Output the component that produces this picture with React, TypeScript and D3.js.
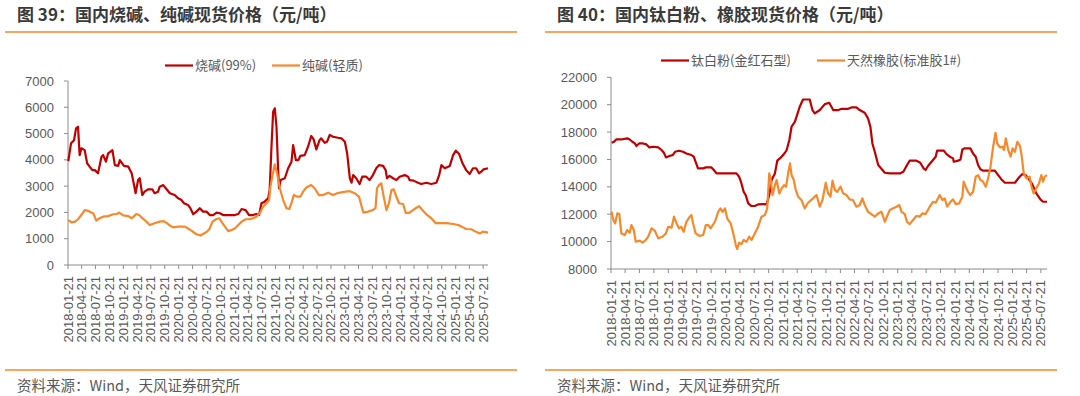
import * as d3 from 'd3';
import React from 'react';

// 烧碱(99%) spot price, 元/吨
const caustic: [string, number][] = [
  ['2018-01-23', 3950], ['2018-02-10', 4630], ['2018-03-02', 4750], ['2018-03-15', 5200], ['2018-03-28', 5260],
  ['2018-04-08', 4180], ['2018-04-19', 4440], ['2018-05-11', 4370], ['2018-05-27', 3870], ['2018-06-13', 3740],
  ['2018-07-01', 3610], ['2018-07-17', 3610], ['2018-08-07', 3490], ['2018-08-30', 4120], ['2018-09-10', 4180],
  ['2018-09-28', 3930], ['2018-10-13', 4250], ['2018-11-10', 4370], ['2018-11-26', 3800], ['2018-12-18', 3770],
  ['2018-12-29', 3990], ['2019-01-25', 3770], ['2019-02-23', 3740], ['2019-03-17', 3490], ['2019-03-26', 3230],
  ['2019-04-12', 2730], ['2019-04-28', 3230], ['2019-05-09', 3300], ['2019-05-26', 2660], ['2019-06-10', 2790],
  ['2019-07-03', 2880], ['2019-07-31', 2880], ['2019-08-15', 2730], ['2019-09-07', 2790], ['2019-09-18', 2980],
  ['2019-10-11', 3040], ['2019-10-28', 2920], ['2019-11-24', 2730], ['2019-12-26', 2660], ['2020-01-17', 2540],
  ['2020-02-09', 2470], ['2020-02-25', 2350], ['2020-03-23', 2280], ['2020-04-07', 2160], ['2020-04-26', 1930],
  ['2020-05-17', 2030], ['2020-06-08', 2160], ['2020-06-30', 2030], ['2020-07-22', 2030], ['2020-08-13', 1900],
  ['2020-09-04', 1900], ['2020-09-27', 1990], ['2020-10-19', 1970], ['2020-11-09', 1900], ['2020-12-24', 1900],
  ['2021-01-26', 1900], ['2021-02-17', 1940], ['2021-03-11', 2130], ['2021-04-07', 2090], ['2021-04-29', 1900],
  ['2021-05-25', 1900], ['2021-06-16', 1940], ['2021-07-04', 1900], ['2021-07-20', 2350], ['2021-08-10', 2410],
  ['2021-09-02', 2540], ['2021-09-12', 2850], ['2021-09-24', 4500], ['2021-10-05', 5830], ['2021-10-16', 5960],
  ['2021-10-27', 5260], ['2021-11-07', 3610], ['2021-11-13', 2920], ['2021-11-23', 3230], ['2021-12-21', 3300],
  ['2022-01-12', 3680], ['2022-02-03', 3930], ['2022-02-14', 4560], ['2022-03-04', 3990], ['2022-03-20', 3990],
  ['2022-04-02', 4150], ['2022-05-01', 4180], ['2022-05-23', 4500], ['2022-06-13', 4910], ['2022-06-29', 4780],
  ['2022-07-17', 4400], ['2022-08-07', 4750], ['2022-08-18', 4820], ['2022-09-10', 4650], ['2022-09-26', 4690],
  ['2022-10-13', 4950], ['2022-11-04', 4880], ['2022-12-07', 4840], ['2022-12-29', 4820], ['2023-01-21', 4690],
  ['2023-02-05', 4250], ['2023-02-23', 3300], ['2023-03-06', 3130], ['2023-03-17', 3420], ['2023-04-06', 3300],
  ['2023-04-28', 3080], ['2023-05-16', 3360], ['2023-06-11', 3360], ['2023-07-03', 3230], ['2023-07-25', 3420],
  ['2023-08-16', 3680], ['2023-09-03', 3800], ['2023-09-30', 3770], ['2023-10-17', 3610], ['2023-10-26', 3300],
  ['2023-11-12', 3390], ['2023-12-05', 3300], ['2023-12-27', 3230], ['2024-01-17', 3360], ['2024-02-20', 3420],
  ['2024-03-13', 3360], ['2024-03-23', 3230], ['2024-04-18', 3210], ['2024-05-17', 3130], ['2024-06-08', 3080],
  ['2024-07-11', 3130], ['2024-08-13', 3080], ['2024-09-16', 3130], ['2024-10-04', 3420], ['2024-10-19', 3800],
  ['2024-11-10', 3680], ['2024-12-13', 3770], ['2025-01-04', 4180], ['2025-01-22', 4350], ['2025-02-13', 4220],
  ['2025-03-07', 3870], ['2025-03-31', 3610], ['2025-04-23', 3460], ['2025-05-15', 3680], ['2025-06-05', 3680],
  ['2025-06-24', 3490], ['2025-07-09', 3550], ['2025-07-24', 3640], ['2025-08-22', 3680],
];

// 纯碱(轻质)
const sodaAsh: [string, number][] = [
  ['2018-01-23', 1710], ['2018-02-14', 1620], ['2018-03-09', 1650], ['2018-03-28', 1740], ['2018-04-19', 1900],
  ['2018-05-11', 2090], ['2018-05-27', 2070], ['2018-06-13', 2030], ['2018-07-06', 1970], ['2018-07-27', 1690],
  ['2018-08-18', 1780], ['2018-09-10', 1840], ['2018-10-13', 1860], ['2018-11-15', 1930], ['2018-12-07', 1940],
  ['2018-12-25', 1990], ['2019-01-20', 1890], ['2019-02-23', 1860], ['2019-03-17', 1780], ['2019-03-30', 1840],
  ['2019-04-16', 1940], ['2019-05-05', 1900], ['2019-05-26', 1780], ['2019-06-22', 1650], ['2019-07-14', 1520],
  ['2019-08-15', 1590], ['2019-09-18', 1650], ['2019-10-11', 1670], ['2019-11-01', 1610], ['2019-11-24', 1500],
  ['2019-12-15', 1430], ['2020-01-17', 1460], ['2020-03-02', 1460], ['2020-03-23', 1390], ['2020-04-14', 1310],
  ['2020-05-17', 1170], ['2020-06-12', 1120], ['2020-07-05', 1200], ['2020-07-26', 1270], ['2020-08-13', 1390],
  ['2020-08-31', 1650], ['2020-09-23', 1740], ['2020-10-14', 1780], ['2020-10-29', 1650], ['2020-11-21', 1460],
  ['2020-12-13', 1290], ['2021-01-04', 1330], ['2021-01-26', 1390], ['2021-02-17', 1520], ['2021-03-11', 1650],
  ['2021-04-07', 1740], ['2021-05-04', 1740], ['2021-05-25', 1780], ['2021-06-16', 1840], ['2021-07-09', 1970],
  ['2021-07-30', 2220], ['2021-08-22', 2350], ['2021-09-08', 2470], ['2021-09-17', 2980], ['2021-10-01', 3420],
  ['2021-10-16', 3830], ['2021-10-31', 3490], ['2021-11-18', 2920], ['2021-12-10', 2470], ['2022-01-01', 2160],
  ['2022-01-19', 2130], ['2022-02-03', 2350], ['2022-02-18', 2660], ['2022-03-13', 2600], ['2022-04-02', 2600],
  ['2022-04-20', 2790], ['2022-05-12', 2950], ['2022-06-13', 3040], ['2022-07-06', 2920], ['2022-08-03', 2660],
  ['2022-08-30', 2660], ['2022-10-03', 2750], ['2022-11-04', 2660], ['2022-12-01', 2730], ['2022-12-29', 2760],
  ['2023-01-27', 2790], ['2023-02-23', 2810], ['2023-03-26', 2730], ['2023-04-24', 2600], ['2023-05-09', 2280],
  ['2023-05-24', 1990], ['2023-06-23', 2030], ['2023-07-25', 2090], ['2023-08-11', 2160], ['2023-08-21', 2920],
  ['2023-09-03', 3040], ['2023-09-18', 3110], ['2023-10-04', 2600], ['2023-10-22', 2090], ['2023-11-08', 2350],
  ['2023-11-24', 2850], ['2023-12-09', 2880], ['2023-12-27', 2600], ['2024-01-13', 2350], ['2024-02-09', 2320],
  ['2024-02-27', 1970], ['2024-03-23', 1990], ['2024-04-14', 2090], ['2024-05-02', 2160], ['2024-05-24', 2240],
  ['2024-06-15', 2090], ['2024-07-11', 1930], ['2024-08-13', 1780], ['2024-09-11', 1590], ['2024-10-08', 1590],
  ['2024-11-22', 1590], ['2025-01-04', 1560], ['2025-02-06', 1520], ['2025-03-01', 1460], ['2025-03-31', 1370],
  ['2025-05-04', 1360], ['2025-06-01', 1270], ['2025-06-28', 1200], ['2025-07-20', 1270], ['2025-08-22', 1230],
];

// 钛白粉(金红石型)
const titanium: [string, number][] = [
  ['2018-01-25', 17220], ['2018-02-09', 17290], ['2018-02-23', 17460], ['2018-03-28', 17460], ['2018-05-04', 17540],
  ['2018-05-20', 17460], ['2018-06-06', 17290], ['2018-06-22', 17170], ['2018-07-02', 16980], ['2018-07-19', 17170],
  ['2018-08-13', 17170], ['2018-09-04', 17100], ['2018-09-22', 16880], ['2018-10-17', 16930], ['2018-11-18', 16880],
  ['2018-12-09', 16690], ['2018-12-24', 16490], ['2019-01-06', 16150], ['2019-01-27', 16250], ['2019-02-18', 16320],
  ['2019-03-05', 16560], ['2019-03-30', 16640], ['2019-04-25', 16560], ['2019-05-16', 16440], ['2019-06-17', 16320],
  ['2019-07-02', 16200], ['2019-07-14', 15830], ['2019-07-29', 15350], ['2019-08-31', 15350], ['2019-09-17', 15420],
  ['2019-10-23', 15420], ['2019-11-07', 15230], ['2019-11-24', 14980], ['2020-01-17', 14980], ['2020-02-28', 14980],
  ['2020-03-30', 14980], ['2020-04-16', 14740], ['2020-05-01', 14250], ['2020-05-15', 13640], ['2020-05-28', 13400],
  ['2020-06-13', 12790], ['2020-07-04', 12600], ['2020-07-25', 12600], ['2020-08-15', 12720], ['2020-09-17', 12740],
  ['2020-10-08', 12720], ['2020-10-25', 13400], ['2020-11-09', 14500], ['2020-11-30', 14980], ['2020-12-15', 15910],
  ['2021-01-06', 16130], ['2021-02-02', 16490], ['2021-02-13', 16690], ['2021-03-02', 17420], ['2021-03-16', 18390],
  ['2021-04-06', 18750], ['2021-04-20', 19240], ['2021-05-07', 19850], ['2021-05-28', 20380], ['2021-07-10', 20380],
  ['2021-07-27', 19610], ['2021-08-11', 19360], ['2021-09-12', 19610], ['2021-10-14', 20040], ['2021-11-11', 20140],
  ['2021-12-06', 19610], ['2022-01-08', 19610], ['2022-01-29', 19700], ['2022-03-12', 19700], ['2022-04-01', 19800],
  ['2022-05-03', 19800], ['2022-05-24', 19610], ['2022-06-25', 19410], ['2022-07-16', 19000], ['2022-07-31', 18390],
  ['2022-08-13', 17170], ['2022-08-28', 16560], ['2022-09-19', 15590], ['2022-10-16', 15230], ['2022-10-31', 15030],
  ['2022-12-02', 14980], ['2023-02-04', 14980], ['2023-02-26', 15100], ['2023-03-13', 15420], ['2023-04-07', 15910],
  ['2023-05-20', 15910], ['2023-06-14', 15760], ['2023-07-05', 15350], ['2023-07-18', 15230], ['2023-08-02', 15520],
  ['2023-09-03', 15960], ['2023-09-20', 16200], ['2023-09-29', 16640], ['2023-11-11', 16640], ['2023-11-28', 16390],
  ['2023-12-19', 16200], ['2024-01-09', 16080], ['2024-01-13', 15830], ['2024-02-10', 15910], ['2024-02-25', 16000],
  ['2024-03-08', 16730], ['2024-03-23', 16810], ['2024-04-28', 16810], ['2024-05-15', 16440], ['2024-06-01', 16200],
  ['2024-06-16', 15590], ['2024-07-01', 15280], ['2024-07-18', 15180], ['2024-10-01', 15180], ['2024-10-22', 14860],
  ['2024-11-12', 14540], ['2024-12-04', 14300], ['2025-02-06', 14300], ['2025-02-27', 14620], ['2025-03-25', 14930],
  ['2025-04-15', 14860], ['2025-05-06', 14540], ['2025-05-27', 14200], ['2025-06-22', 13520], ['2025-07-18', 13080],
  ['2025-08-04', 12910], ['2025-08-29', 12910],
];

// 天然橡胶(标准胶1#)
const rubber: [string, number][] = [
  ['2018-01-25', 12180], ['2018-02-05', 11580], ['2018-02-16', 11330], ['2018-03-02', 12060], ['2018-03-15', 12010],
  ['2018-03-28', 10600], ['2018-04-19', 10480], ['2018-05-04', 10850], ['2018-05-20', 10650], ['2018-05-31', 11210],
  ['2018-06-15', 10850], ['2018-06-28', 9990], ['2018-07-23', 10070], ['2018-08-10', 9920], ['2018-08-31', 10120],
  ['2018-09-15', 10360], ['2018-10-06', 10970], ['2018-10-27', 10800], ['2018-11-18', 10240], ['2018-12-15', 10360],
  ['2019-01-06', 10600], ['2019-01-21', 11090], ['2019-02-11', 11020], ['2019-02-26', 11820], ['2019-03-15', 11330],
  ['2019-03-30', 10970], ['2019-04-14', 11090], ['2019-04-29', 10720], ['2019-05-16', 11450], ['2019-06-07', 11820],
  ['2019-06-17', 11940], ['2019-06-28', 11330], ['2019-07-14', 10600], ['2019-08-09', 10410], ['2019-08-31', 10480],
  ['2019-09-17', 11210], ['2019-10-02', 11210], ['2019-10-17', 10970], ['2019-11-14', 11450], ['2019-12-05', 12180],
  ['2019-12-19', 12430], ['2020-01-02', 12180], ['2020-01-17', 12430], ['2020-01-31', 11700], ['2020-02-22', 11330],
  ['2020-03-10', 10600], ['2020-03-26', 9750], ['2020-04-04', 9460], ['2020-04-16', 9920], ['2020-05-01', 9820],
  ['2020-05-15', 10120], ['2020-06-02', 9990], ['2020-06-19', 10360], ['2020-07-04', 10120], ['2020-07-25', 10600],
  ['2020-08-15', 11090], ['2020-09-06', 11820], ['2020-09-27', 11940], ['2020-10-12', 12430], ['2020-10-25', 14980],
  ['2020-11-02', 14620], ['2020-11-15', 13400], ['2020-11-30', 14130], ['2020-12-11', 14500], ['2020-12-28', 13520],
  ['2021-01-12', 13890], ['2021-01-27', 14130], ['2021-02-09', 14010], ['2021-02-24', 15100], ['2021-03-06', 15710],
  ['2021-03-16', 14860], ['2021-03-30', 14500], ['2021-04-12', 13770], ['2021-04-27', 13280], ['2021-05-18', 13040],
  ['2021-06-08', 12430], ['2021-06-29', 12840], ['2021-07-31', 13160], ['2021-08-22', 13400], ['2021-09-12', 12550],
  ['2021-09-29', 13040], ['2021-10-20', 14300], ['2021-11-04', 13520], ['2021-11-19', 13280], ['2021-12-02', 14450],
  ['2021-12-17', 13770], ['2022-01-01', 13640], ['2022-01-22', 14010], ['2022-02-08', 13520], ['2022-03-01', 13400],
  ['2022-03-21', 13080], ['2022-04-11', 13040], ['2022-05-03', 12550], ['2022-05-24', 12670], ['2022-06-10', 13160],
  ['2022-06-25', 12670], ['2022-07-16', 12180], ['2022-08-06', 12010], ['2022-08-28', 11820], ['2022-09-19', 12060],
  ['2022-10-10', 12180], ['2022-10-31', 11450], ['2022-11-15', 11870], ['2022-12-02', 12310], ['2022-12-23', 12430],
  ['2023-01-14', 12550], ['2023-01-31', 12670], ['2023-02-15', 12180], ['2023-03-07', 12010], ['2023-03-21', 11450],
  ['2023-04-07', 11280], ['2023-04-29', 11580], ['2023-05-20', 11870], ['2023-06-10', 11820], ['2023-06-27', 12060],
  ['2023-07-18', 12010], ['2023-08-13', 12550], ['2023-09-03', 12910], ['2023-09-20', 12840], ['2023-10-16', 13400],
  ['2023-11-02', 13040], ['2023-11-17', 13160], ['2023-12-02', 12550], ['2023-12-23', 12910], ['2024-01-09', 13080],
  ['2024-01-26', 12740], ['2024-02-16', 12790], ['2024-03-08', 13280], ['2024-03-16', 14380], ['2024-03-29', 14010],
  ['2024-04-13', 13640], ['2024-04-28', 13400], ['2024-05-15', 13640], ['2024-06-01', 14740], ['2024-06-16', 14860],
  ['2024-07-01', 14500], ['2024-07-18', 14380], ['2024-08-04', 14010], ['2024-08-19', 14620], ['2024-09-03', 15470],
  ['2024-09-20', 16930], ['2024-10-05', 17950], ['2024-10-16', 17170], ['2024-11-02', 16880], ['2024-11-19', 16930],
  ['2024-11-28', 16690], ['2024-12-10', 17540], ['2024-12-25', 16690], ['2025-01-09', 16200], ['2025-01-22', 16810],
  ['2025-02-06', 16560], ['2025-02-21', 17290], ['2025-03-10', 16980], ['2025-03-20', 16320], ['2025-04-03', 14980],
  ['2025-04-20', 14620], ['2025-05-11', 14740], ['2025-05-21', 14060], ['2025-06-05', 13520], ['2025-06-22', 13890],
  ['2025-07-09', 14250], ['2025-07-24', 14860], ['2025-08-04', 14380], ['2025-08-14', 14740], ['2025-08-29', 14860],
];

const leftTicks = [0, 1000, 2000, 3000, 4000, 5000, 6000, 7000];
const rightTicks = [8000, 10000, 12000, 14000, 16000, 18000, 20000, 22000];

const RED = '#C00000';
const ORANGE = '#F5892B';
const TEXT = '#595959';
const AXIS = '#8C8C8C';
const NUM_FONT = '"Liberation Sans", Arial, "Noto Sans CJK SC", sans-serif';
const CJK_FONT = '"Noto Sans CJK SC", "Liberation Sans", sans-serif';

const parse = d3.timeParse('%Y-%m-%d');
const fmt = d3.timeFormat('%Y-%m-%d');
const startDate = parse('2018-01-21') as Date;
// quarterly category labels, 2018-01-21 .. 2025-07-21
const tickDates = d3.range(31).map((i) => d3.timeMonth.offset(startDate, i * 3));

const Panel = ({ ox, title, plot, yDomain, yTicks, endDate, series, legend, legendY }) => {
  const x = d3.scaleTime().domain([startDate, parse(endDate)]).range([plot.x0, plot.x1]);
  const y = d3.scaleLinear().domain(yDomain).range([plot.y0, plot.y1]);
  const line = d3
    .line<[string, number]>()
    .x((d) => x(parse(d[0]) as Date))
    .y((d) => y(d[1]));

  return (
    <g>
      <text x={ox + 17} y={21} fontFamily={CJK_FONT} fontSize={17} fontWeight="bold" fill="#3A3A3A">
        {title}
      </text>
      <line x1={ox + 5} x2={ox + 517} y1={32} y2={32} stroke={ORANGE} strokeWidth={1.6} />

      {/* legend */}
      {legend.map((l, i) => (
        <g key={i}>
          <line x1={l.x} x2={l.x + 28} y1={legendY} y2={legendY} stroke={series[i].color} strokeWidth={2.2} />
          <text x={l.x + 30} y={legendY + 4.5} fontFamily={CJK_FONT} fontSize={13} fill={TEXT}>
            {series[i].name}
          </text>
        </g>
      ))}

      {/* y axis */}
      <line x1={plot.x0} x2={plot.x0} y1={plot.y0} y2={plot.y1} stroke={AXIS} strokeWidth={1} />
      {yTicks.map((t) => (
        <g key={t}>
          <line x1={plot.x0 - 4} x2={plot.x0} y1={y(t)} y2={y(t)} stroke={AXIS} />
          <text x={plot.x0 - 14} y={y(t)} dy="0.35em" textAnchor="end" fontFamily={NUM_FONT} fontSize={13} fill={TEXT}>
            {t}
          </text>
        </g>
      ))}

      {/* x axis */}
      <line x1={plot.x0} x2={plot.x1} y1={plot.y0} y2={plot.y0} stroke={AXIS} strokeWidth={1} />
      {tickDates.map((d, i) => (
        <g key={i}>
          <line x1={x(d)} x2={x(d)} y1={plot.y0} y2={plot.y0 + 4} stroke={AXIS} />
          <text
            transform={`translate(${x(d)},${plot.y0 + 11}) rotate(-90)`}
            dy="0.35em"
            textAnchor="end"
            fontFamily={NUM_FONT}
            fontSize={13}
            fill={TEXT}
          >
            {fmt(d)}
          </text>
        </g>
      ))}

      {series.map((s) => (
        <path
          key={s.name}
          d={line(s.data) || ''}
          fill="none"
          stroke={s.color}
          strokeWidth={2.2}
          strokeLinejoin="round"
        />
      ))}

      <line x1={ox + 5} x2={ox + 517} y1={370} y2={370} stroke={ORANGE} strokeWidth={1.6} />
      <text x={ox + 17} y={391} fontFamily={CJK_FONT} fontSize={14.5} fill={TEXT}>
        资料来源：Wind，天风证券研究所
      </text>
    </g>
  );
};

export default function App() {
  return (
    <>
      <style>{'body{margin:0;background:#fff}'}</style>
      <svg width={1080} height={396} style={{ display: 'block' }}>
        <rect width={1080} height={396} fill="#fff" />
        <Panel
          ox={0}
          title="图 39：国内烧碱、纯碱现货价格（元/吨）"
          plot={{ x0: 68, x1: 488, y0: 265, y1: 81 }}
          yDomain={[0, 7000]}
          yTicks={leftTicks}
          endDate="2025-08-22"
          legendY={65.5}
          legend={[{ x: 165 }, { x: 272 }]}
          series={[
            { name: '烧碱(99%)', color: RED, data: caustic },
            { name: '纯碱(轻质)', color: ORANGE, data: sodaAsh },
          ]}
        />
        <Panel
          ox={540}
          title="图 40：国内钛白粉、橡胶现货价格（元/吨）"
          plot={{ x0: 611, x1: 1047, y0: 269, y1: 77.3 }}
          yDomain={[8000, 22000]}
          yTicks={rightTicks}
          endDate="2025-08-29"
          legendY={60.5}
          legend={[{ x: 661 }, { x: 817 }]}
          series={[
            { name: '钛白粉(金红石型)', color: RED, data: titanium },
            { name: '天然橡胶(标准胶1#)', color: ORANGE, data: rubber },
          ]}
        />
      </svg>
    </>
  );
}
